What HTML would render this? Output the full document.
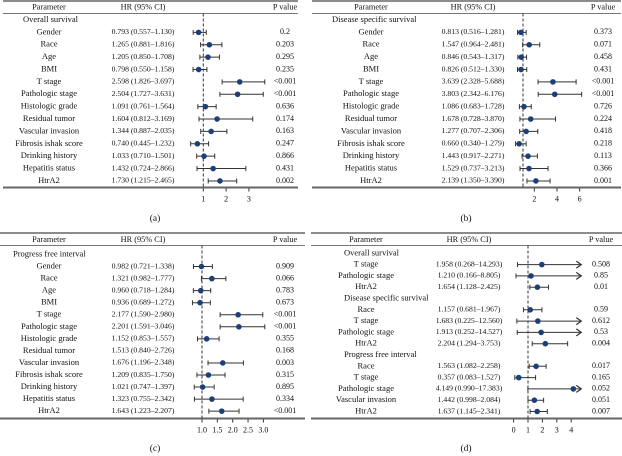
<!DOCTYPE html>
<html><head><meta charset="utf-8"><style>
html,body{margin:0;padding:0;background:#fff;}
svg{display:block;font-family:"Liberation Serif",serif;}
</style></head><body>
<svg id="fig" width="622" height="456" viewBox="0 0 622 456" xmlns="http://www.w3.org/2000/svg"></svg>
<script>
// Panel (a) Overall survival
const aGroup = "Overall survival";
const aLabels = ["Gender","Race","Age","BMI","T stage","Pathologic stage","Histologic grade","Residual tumor","Vascular invasion","Fibrosis ishak score","Drinking history","Hepatitis status","HtrA2"];
const aHr = [0.793,1.265,1.205,0.798,2.598,2.504,1.091,1.604,1.344,0.740,1.033,1.432,1.730];
const aLo = [0.557,0.881,0.850,0.550,1.826,1.727,0.761,0.812,0.887,0.445,0.710,0.724,1.215];
const aHi = [1.130,1.816,1.708,1.158,3.697,3.631,1.564,3.169,2.035,1.232,1.501,2.866,2.465];
const aP = ["0.2","0.203","0.295","0.235","<0.001","<0.001","0.636","0.174","0.163","0.247","0.866","0.431","0.002"];
const aTicks = [1,2,3];
const aTickLabels = ["1","2","3"];
// Panel (b) Disease specific survival
const bGroup = "Disease specific survival";
const bLabels = aLabels;
const bHr = [0.813,1.547,0.846,0.826,3.639,3.803,1.086,1.678,1.277,0.660,1.443,1.529,2.139];
const bLo = [0.516,0.964,0.543,0.512,2.328,2.342,0.683,0.728,0.707,0.340,0.917,0.737,1.350];
const bHi = [1.281,2.481,1.317,1.330,5.688,6.176,1.728,3.870,2.306,1.279,2.271,3.213,3.390];
const bP = ["0.373","0.071","0.458","0.431","<0.001","<0.001","0.726","0.224","0.418","0.218","0.113","0.366","0.001"];
const bTicks = [2,4,6];
const bTickLabels = ["2","4","6"];
// Panel (c) Progress free interval
const cGroup = "Progress free interval";
const cLabels = aLabels;
const cHr = [0.982,1.321,0.960,0.936,2.177,2.201,1.152,1.513,1.676,1.209,1.021,1.323,1.643];
const cLo = [0.721,0.982,0.718,0.689,1.590,1.591,0.853,0.840,1.196,0.835,0.747,0.755,1.223];
const cHi = [1.338,1.777,1.284,1.272,2.980,3.046,1.557,2.726,2.348,1.750,1.397,2.342,2.207];
const cP = ["0.909","0.066","0.783","0.673","<0.001","<0.001","0.355","0.168","0.003","0.315","0.895","0.334","<0.001"];
const cShow = [1,1,1,1,1,1,1,0,1,1,1,1,1];
const cTicks = [1,1.5,2,2.5,3];
const cTickLabels = ["1.0","1.5","2.0","2.5","3.0"];
// Panel (d) multivariate
const dLabels = ["Overall survival","T stage","Pathologic stage","HtrA2","Disease specific survival","Race","T stage","Pathologic stage","HtrA2","Progress free interval","Race","T stage","Pathologic stage","Vascular invasion","HtrA2"];
const dHr = [null,1.958,1.210,1.654,null,1.157,1.683,1.913,2.204,null,1.563,0.357,4.149,1.442,1.637];
const dLo = [null,0.268,0.166,1.128,null,0.681,0.225,0.252,1.294,null,1.082,0.083,0.990,0.998,1.145];
const dHi = [null,14.293,8.805,2.425,null,1.967,12.560,14.527,3.753,null,2.258,1.527,17.383,2.084,2.341];
const dP = [null,"0.508","0.85","0.01",null,"0.59","0.612","0.53","0.004",null,"0.017","0.165","0.052","0.051","0.007"];
const dTicks = [0,1,2,3,4];
const dTickLabels = ["0","1","2","3","4"];

const NS="http://www.w3.org/2000/svg";
const svg=document.getElementById('fig');
function mk(tag,attrs,parent){const e=document.createElementNS(NS,tag);for(const k in attrs)e.setAttribute(k,attrs[k]);(parent||svg).appendChild(e);return e;}
function txt(x,y,s,size,anchor,parent){const t=mk('text',{x:x,y:y,'font-size':size,'text-anchor':anchor||'middle',fill:'#111','dominant-baseline':'middle'},parent);t.textContent=s;return t;}
function fmt(h,l,u){return h.toFixed(3)+" ("+l.toFixed(3)+"\u2013"+u.toFixed(3)+")";}

function panel(cfg){
  const g=mk('g',{});
  
  
  const xs=v=>cfg.x1+(v-1)*cfg.ppu;
  const top=mk('line',{x1:cfg.l,x2:cfg.r,y1:cfg.top,y2:cfg.top,stroke:'#666','stroke-width':1.5},g);
  
  
  const hb=mk('line',{x1:cfg.l,x2:cfg.r,y1:cfg.hb,y2:cfg.hb,stroke:'#777','stroke-width':1},g);
  
  
  const bt=mk('line',{x1:cfg.l,x2:cfg.r,y1:cfg.bot,y2:cfg.bot,stroke:'#666','stroke-width':2},g);
  
  
  let t=txt(cfg.cParam,cfg.hy,"Parameter",8.3,'middle',g);
  
  
  t=txt(cfg.cHr,cfg.hy,"HR (95% CI)",8.3,'middle',g);
  
  
  t=txt(cfg.cP,cfg.hy,"P value",8.3,'middle',g);
  
  
  const ref=mk('line',{x1:xs(1),x2:xs(1),y1:cfg.hb,y2:cfg.bot,stroke:'#333','stroke-width':1,'stroke-dasharray':'3,2'},g);
  
  
  for(let i=0;i<cfg.labels.length;i++){
    const y=cfg.y0+i*cfg.step;
    const isGroup=cfg.hr[i]===null;
    if(isGroup){
      const gt=txt(cfg.gx,y,cfg.labels[i],8.5,'start',g);
      
      
      continue;
    }
    const lt=txt(cfg.cParam,y,cfg.labels[i],8.5,'middle',g);
    
    
    const ht=txt(cfg.cHr,y,fmt(cfg.hr[i],cfg.lo[i],cfg.hi[i]),7.7,'middle',g);
    
    
    const pt=txt(cfg.cP,y,cfg.p[i],8,'middle',g);
    
    
    if(cfg.show && !cfg.show[i]) continue;
    const lo=Math.max(cfg.lo[i],cfg.minV), hiRaw=cfg.hi[i];
    const clipped=cfg.maxV!==undefined && hiRaw>cfg.maxV;
    const hi=clipped?cfg.maxV:hiRaw;
    const ci=mk('line',{x1:xs(lo),x2:xs(hi),y1:y,y2:y,stroke:'#333','stroke-width':1},g);
    
    
    const c1=mk('line',{x1:xs(lo),x2:xs(lo),y1:y-2.5,y2:y+2.5,stroke:'#333','stroke-width':1},g);
    
    
    if(clipped){
      const ar=mk('path',{d:`M${xs(hi)-5},${y-3.5} L${xs(hi)},${y} L${xs(hi)-5},${y+3.5}`,fill:'none',stroke:'#333','stroke-width':1.2},g);
      
      
    }else{
      const c2=mk('line',{x1:xs(hi),x2:xs(hi),y1:y-2.5,y2:y+2.5,stroke:'#333','stroke-width':1},g);
      
      
    }
    const dot=mk('circle',{cx:xs(cfg.hr[i]),cy:y,r:2.8,fill:'#1d3f78'},g);
    
    
  }
  for(let k=0;k<cfg.ticks.length;k++){
    const x=xs(cfg.ticks[k]);
    const tm=mk('line',{x1:x,x2:x,y1:cfg.bot+1,y2:cfg.bot+4,stroke:'#333','stroke-width':1},g);
    
    
    const tl=txt(x,cfg.bot+12,cfg.tickLabels[k],8,'middle',g);
    
    
  }
  const cap=txt(cfg.capX,cfg.capY,cfg.cap,9.5,'middle',g);
  
  
}
function withGroup(group,labels,hr,lo,hi,p,show){
  return {labels:[group].concat(labels),hr:[null].concat(hr),lo:[null].concat(lo),hi:[null].concat(hi),p:[null].concat(p),show:show?[0].concat(show):null};
}
const A=withGroup(aGroup,aLabels,aHr,aLo,aHi,aP);
panel(Object.assign({name:'panel-a-overall-survival',l:3,r:298,top:1,hb:13.5,bot:187.5,hy:7.5,y0:20,step:12.38,cParam:49,cHr:143,cP:285,gx:23,x1:203.3,ppu:22.8,minV:-10,ticks:aTicks,tickLabels:aTickLabels,cap:'(a)',capX:155,capY:219},A));
const B=withGroup(bGroup,bLabels,bHr,bLo,bHi,bP);
panel(Object.assign({name:'panel-b-disease-specific-survival',l:312,r:621,top:1,hb:13.5,bot:187.5,hy:7.5,y0:20,step:12.38,cParam:371,cHr:473,cP:603,gx:332,x1:523,ppu:11.33,minV:-10,ticks:bTicks,tickLabels:bTickLabels,cap:'(b)',capX:466,capY:219},B));
const C=withGroup(cGroup,cLabels,cHr,cLo,cHi,cP,cShow);
panel(Object.assign({name:'panel-c-progress-free-interval',l:0,r:305,top:233,hb:245.5,bot:418.5,hy:240,y0:254.5,step:12.05,cParam:49,cHr:143,cP:285,gx:13,x1:202,ppu:30.7,minV:-10,ticks:cTicks,tickLabels:cTickLabels,cap:'(c)',capX:155,capY:449},C));
panel({name:'panel-d-multivariate',labels:dLabels,hr:dHr,lo:dLo,hi:dHi,p:dP,show:null,l:311,r:622,top:233,hb:245.5,bot:418.5,hy:240,y0:253.3,step:11.3,cParam:366,cHr:469,cP:601,gx:344,x1:528,ppu:14.4,minV:0,maxV:4.7,ticks:dTicks,tickLabels:dTickLabels,cap:'(d)',capX:466,capY:449});
</script>
</body></html>
